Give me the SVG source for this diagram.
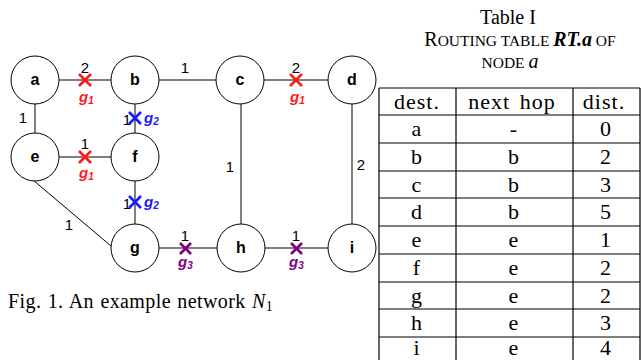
<svg xmlns="http://www.w3.org/2000/svg" width="642" height="360" viewBox="0 0 642 360">
<style>
.node{fill:#fff;stroke:#000;stroke-width:1}
.nl{font-family:"Liberation Sans",Arial,sans-serif;font-weight:bold;font-size:16px;text-anchor:middle}
.edge{stroke:#000;stroke-width:1;fill:none}
.w{font-family:"Liberation Sans",Arial,sans-serif;font-size:15px;text-anchor:middle}
.g{font-family:"Liberation Sans",Arial,sans-serif;font-weight:bold;font-style:italic;font-size:15px}
.xr{stroke:#ff1a1a;stroke-width:2.6}
.xb{stroke:#1a1aff;stroke-width:2.6}
.xp{stroke:#800080;stroke-width:2.6}
.t{font-family:"Liberation Serif","Times New Roman",serif;font-size:22px;text-anchor:middle;letter-spacing:1px}
.ti{font-family:"Liberation Serif","Times New Roman",serif;font-size:20px;text-anchor:middle}
.tl{stroke:#000;stroke-width:1.2}
</style>
<g id="connectors">
<line class="edge" x1="59" y1="80" x2="111" y2="80"/>
<line class="edge" x1="159" y1="80" x2="216" y2="80"/>
<line class="edge" x1="264" y1="80" x2="328" y2="80"/>
<line class="edge" x1="35" y1="104" x2="35" y2="133"/>
<line class="edge" x1="135" y1="104" x2="135" y2="133"/>
<line class="edge" x1="59" y1="157" x2="111" y2="157"/>
<line class="edge" x1="135" y1="181" x2="135" y2="224"/>
<line class="edge" x1="33" y1="180" x2="111" y2="246"/>
<line class="edge" x1="241" y1="104" x2="241" y2="224"/>
<line class="edge" x1="352" y1="104" x2="352" y2="224"/>
<line class="edge" x1="159" y1="248" x2="217" y2="248"/>
<line class="edge" x1="265" y1="248" x2="328" y2="248"/>
<text class="w" x="85" y="73">2</text>
<text class="w" x="185" y="73">1</text>
<text class="w" x="296" y="73">2</text>
<text class="w" x="23" y="123">1</text>
<text class="w" x="85" y="149">1</text>
<text class="w" x="69" y="230">1</text>
<text class="w" x="230" y="172">1</text>
<text class="w" x="361" y="170">2</text>
<text class="w" x="185" y="241">1</text>
<text class="w" x="296" y="241">1</text>
<text class="w" x="127" y="125">1</text>
<text class="w" x="127" y="209">1</text>
<g class="xr"><line x1="79" y1="74" x2="91" y2="86"/><line x1="91" y1="74" x2="79" y2="86"/></g>
<g class="xr"><line x1="290" y1="74" x2="302" y2="86"/><line x1="302" y1="74" x2="290" y2="86"/></g>
<g class="xr"><line x1="79" y1="151" x2="91" y2="163"/><line x1="91" y1="151" x2="79" y2="163"/></g>
<g class="xb"><line x1="129" y1="112" x2="141" y2="124"/><line x1="141" y1="112" x2="129" y2="124"/></g>
<g class="xb"><line x1="129" y1="196" x2="141" y2="208"/><line x1="141" y1="196" x2="129" y2="208"/></g>
<g class="xp"><line x1="180" y1="243" x2="191" y2="254"/><line x1="191" y1="243" x2="180" y2="254"/></g>
<g class="xp"><line x1="291" y1="243" x2="302" y2="254"/><line x1="302" y1="243" x2="291" y2="254"/></g>
<text class="g" x="79" y="102" fill="#ff1a1a">g<tspan font-size="10" dy="2">1</tspan></text>
<text class="g" x="290" y="102" fill="#ff1a1a">g<tspan font-size="10" dy="2">1</tspan></text>
<text class="g" x="79" y="178" fill="#ff1a1a">g<tspan font-size="10" dy="2">1</tspan></text>
<text class="g" x="144" y="123" fill="#1a1aff">g<tspan font-size="10" dy="2">2</tspan></text>
<text class="g" x="144" y="207" fill="#1a1aff">g<tspan font-size="10" dy="2">2</tspan></text>
<text class="g" x="178" y="267" fill="#800080">g<tspan font-size="10" dy="2">3</tspan></text>
<text class="g" x="289" y="267" fill="#800080">g<tspan font-size="10" dy="2">3</tspan></text>
</g>
<g id="node-a"><circle class="node" cx="35" cy="80" r="24"/><text class="nl" x="35" y="85">a</text></g>
<g id="node-b"><circle class="node" cx="135" cy="80" r="24"/><text class="nl" x="135" y="85">b</text></g>
<g id="node-c"><circle class="node" cx="240" cy="80" r="24"/><text class="nl" x="240" y="85">c</text></g>
<g id="node-d"><circle class="node" cx="352" cy="80" r="24"/><text class="nl" x="352" y="85">d</text></g>
<g id="node-e"><circle class="node" cx="35" cy="157" r="24"/><text class="nl" x="35" y="162">e</text></g>
<g id="node-f"><circle class="node" cx="135" cy="157" r="24"/><text class="nl" x="135" y="162">f</text></g>
<g id="node-g"><circle class="node" cx="135" cy="248" r="24"/><text class="nl" x="135" y="253">g</text></g>
<g id="node-h"><circle class="node" cx="241" cy="248" r="24"/><text class="nl" x="241" y="253">h</text></g>
<g id="node-i"><circle class="node" cx="352" cy="248" r="24"/><text class="nl" x="352" y="253">i</text></g>
<text x="8" y="308" font-family="'Liberation Serif','Times New Roman',serif" font-size="20" word-spacing="1" letter-spacing="0.4">Fig. 1. An example network <tspan font-style="italic">N</tspan><tspan font-size="14" dy="3">1</tspan></text>
<g id="table">
<text class="ti" x="508" y="24" font-size="21">Table I</text>
<text class="ti" x="520" y="46">R<tspan font-size="15.5">OUTING TABLE </tspan><tspan font-weight="bold" font-style="italic">RT.a</tspan><tspan font-size="15.5"> OF</tspan></text>
<text class="ti" x="510" y="68"><tspan font-size="15.5">NODE </tspan><tspan font-style="italic">a</tspan></text>
<line class="tl" x1="379" y1="88" x2="640" y2="88"/>
<line class="tl" x1="379" y1="115" x2="640" y2="115"/>
<line class="tl" x1="379" y1="143" x2="640" y2="143"/>
<line class="tl" x1="379" y1="171" x2="640" y2="171"/>
<line class="tl" x1="379" y1="198" x2="640" y2="198"/>
<line class="tl" x1="379" y1="226" x2="640" y2="226"/>
<line class="tl" x1="379" y1="254" x2="640" y2="254"/>
<line class="tl" x1="379" y1="282" x2="640" y2="282"/>
<line class="tl" x1="379" y1="309" x2="640" y2="309"/>
<line class="tl" x1="379" y1="337" x2="640" y2="337"/>
<line class="tl" x1="379" y1="88" x2="379" y2="362"/>
<line class="tl" x1="456" y1="88" x2="456" y2="362"/>
<line class="tl" x1="573" y1="88" x2="573" y2="362"/>
<line class="tl" x1="640" y1="88" x2="640" y2="362"/>
<text class="t" x="417" y="109">dest.</text><text class="t" x="512" y="109" word-spacing="3">next hop</text><text class="t" x="604" y="109">dist.</text>
<text class="t" x="417" y="136">a</text><text class="t" x="514" y="136">-</text><text class="t" x="606" y="136">0</text>
<text class="t" x="417" y="164">b</text><text class="t" x="514" y="164">b</text><text class="t" x="606" y="164">2</text>
<text class="t" x="417" y="192">c</text><text class="t" x="514" y="192">b</text><text class="t" x="606" y="192">3</text>
<text class="t" x="417" y="219">d</text><text class="t" x="514" y="219">b</text><text class="t" x="606" y="219">5</text>
<text class="t" x="417" y="247">e</text><text class="t" x="514" y="247">e</text><text class="t" x="606" y="247">1</text>
<text class="t" x="417" y="275">f</text><text class="t" x="514" y="275">e</text><text class="t" x="606" y="275">2</text>
<text class="t" x="417" y="303">g</text><text class="t" x="514" y="303">e</text><text class="t" x="606" y="303">2</text>
<text class="t" x="417" y="330">h</text><text class="t" x="514" y="330">e</text><text class="t" x="606" y="330">3</text>
<text class="t" x="417" y="355">i</text><text class="t" x="514" y="355">e</text><text class="t" x="606" y="355">4</text>
</g>
</svg>
